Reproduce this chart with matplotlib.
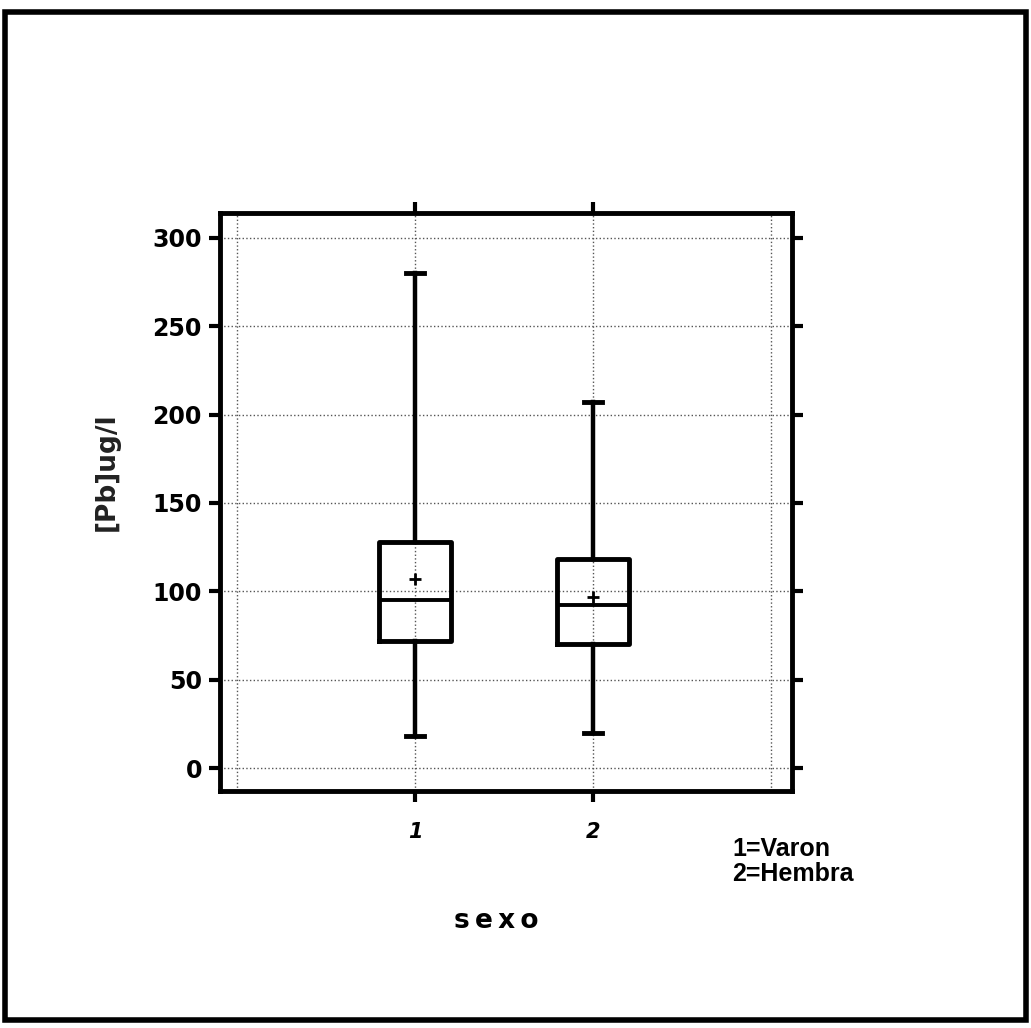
import matplotlib.pyplot as plt
from matplotlib.patches import Rectangle

# boxplot summary for [Pb] by sexo
groups = ['1', '2']
whislo = [18, 20]
q1 = [72, 70]
med = [95, 92]
q3 = [128, 118]
whishi = [280, 207]
means = [107, 97]

yticks = [0, 50, 100, 150, 200, 250, 300]
legend_lines = ['1=Varon', '2=Hembra']

plt.rcParams['font.family'] = ['DejaVu Sans']

fig = plt.figure(figsize=(10.31, 10.28), dpi=100)
ax = fig.add_axes([0.2134, 0.2305, 0.5548, 0.5623])

stats = []
for i in range(len(groups)):
    stats.append({'label': groups[i], 'whislo': whislo[i], 'q1': q1[i], 'med': med[i],
                  'q3': q3[i], 'whishi': whishi[i], 'mean': means[i], 'fliers': []})

ax.bxp(stats, positions=[1, 2], widths=0.4, showmeans=True, capwidths=0.1,
       boxprops=dict(color='black', linewidth=3.5),
       whiskerprops=dict(color='black', linewidth=3.2),
       capprops=dict(color='black', linewidth=3.5),
       medianprops=dict(color='black', linewidth=2.8),
       meanprops=dict(marker='+', markeredgecolor='black', markersize=9, markeredgewidth=2))

ax.set_xlim(-0.096, 3.118)
ax.set_ylim(-13, 314)

# dotted grid at 0..3 on x and every 50 on y
for gx in [0, 1, 2, 3]:
    ax.axvline(gx, color='#555555', linestyle=':', linewidth=1, zorder=0)
for gy in yticks:
    ax.axhline(gy, color='#555555', linestyle=':', linewidth=1, zorder=0)

ax.set_xticks([1, 2])
ax.set_xticklabels(groups, fontsize=15, fontweight='bold', fontstyle='italic')
ax.set_yticks(yticks)
ax.set_yticklabels([str(t) for t in yticks], fontsize=17, fontweight='bold')
ax.tick_params(axis='both', direction='out', length=8, width=3, pad=5,
               top=True, right=True, labeltop=False, labelright=False)
ax.tick_params(axis='x', pad=14)
for sp in ax.spines.values():
    sp.set_linewidth(3.5)

fig.text(107 / 1031, 1 - 472 / 1028, '[Pb]ug/l', rotation=90, fontsize=19,
         fontweight='bold', color='#222222', ha='center', va='center')
fig.text(496 / 1031, 1 - 921 / 1028, 's\u2009e\u2009x\u2009o', fontsize=19, fontweight='bold',
         ha='center', va='center')
fig.text(732 / 1031, 1 - 849 / 1028, legend_lines[0], fontsize=18, fontweight='bold',
         family=['Liberation Sans Narrow', 'Liberation Sans'], ha='left', va='center')
fig.text(732 / 1031, 1 - 874 / 1028, legend_lines[1], fontsize=18, fontweight='bold',
         family=['Liberation Sans Narrow', 'Liberation Sans'], ha='left', va='center')

# outer frame around the whole picture
fig.patches.append(Rectangle((5 / 1031, 8 / 1028), 1021 / 1031, 1008 / 1028,
                             transform=fig.transFigure, fill=False,
                             edgecolor='black', linewidth=4))

fig.savefig('out.png', dpi=100)
